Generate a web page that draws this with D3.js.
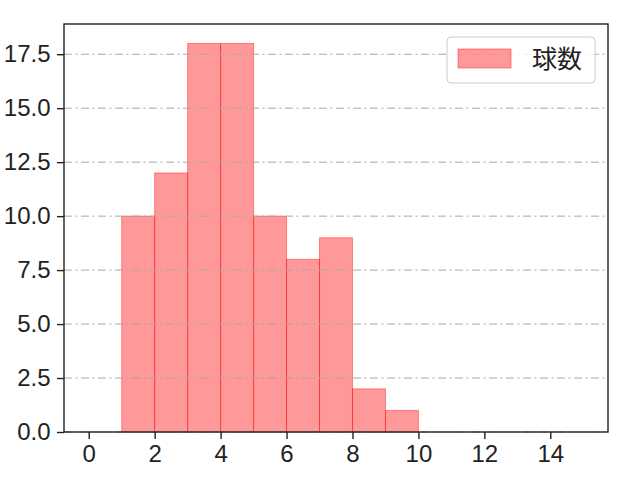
<!DOCTYPE html>
<html>
<head>
<meta charset="utf-8">
<script src="https://cdn.jsdelivr.net/npm/d3@7"></script>
<style>
  body { margin: 0; background: #fff; }
  text { font-family: "Liberation Sans", "Noto Sans CJK JP", sans-serif; }
</style>
</head>
<body>
<div id="chart"></div>
<script>
// histogram bins (left edge, width 1) and counts
const binStarts = [0, 1, 2, 3, 4, 5, 6, 7, 8, 9, 10, 11, 12, 13, 14];
const counts = [0, 10, 12, 18, 18, 10, 8, 9, 2, 1, 0, 0, 0, 0, 0];
const xTicks = [0, 2, 4, 6, 8, 10, 12, 14];
const yTicks = [0, 2.5, 5, 7.5, 10, 12.5, 15, 17.5];
const seriesName = "球数";

const W = 640, H = 480;
const margin = { top: 24, right: 32, bottom: 48, left: 64 };

const svg = d3.select("#chart").append("svg")
  .attr("width", W)
  .attr("height", H);

// matplotlib-like 5% margins
const x0 = d3.min(binStarts), x1 = d3.max(binStarts) + 1;
const pad = (x1 - x0) * 0.05;
const x = d3.scaleLinear()
  .domain([x0 - pad, x1 + pad])
  .range([margin.left, W - margin.right]);

const y = d3.scaleLinear()
  .domain([0, d3.max(counts) * 1.05])
  .range([H - margin.bottom, margin.top]);

const bins = binStarts.map((s, i) => ({ x0: s, x1: s + 1, n: counts[i] }));

// bars
svg.append("g")
  .selectAll("rect")
  .data(bins.filter(d => d.n > 0))
  .join("rect")
  .attr("x", d => x(d.x0))
  .attr("width", d => x(d.x1) - x(d.x0))
  .attr("y", d => y(d.n))
  .attr("height", d => y(0) - y(d.n))
  .attr("fill", "#ff0000")
  .attr("fill-opacity", 0.4)
  .attr("stroke", "#ff0000")
  .attr("stroke-opacity", 0.4)
  .attr("stroke-width", 1);

// grid (on top of the bars)
svg.append("g")
  .selectAll("line")
  .data(yTicks)
  .join("line")
  .attr("x1", margin.left)
  .attr("x2", W - margin.right)
  .attr("y1", d => y(d))
  .attr("y2", d => y(d))
  .attr("stroke", "#a8a8a8")
  .attr("stroke-width", 1)
  .attr("stroke-dasharray", "8,3.5,2,3.5");

// axes
const xAxis = svg.append("g")
  .attr("transform", `translate(0,${H - margin.bottom})`)
  .call(d3.axisBottom(x).tickValues(xTicks).tickSize(7).tickPadding(6).tickFormat(d3.format("d")));

const yAxis = svg.append("g")
  .attr("transform", `translate(${margin.left},0)`)
  .call(d3.axisLeft(y).tickValues(yTicks).tickSize(7).tickPadding(6.5).tickFormat(d3.format(".1f")));

[xAxis, yAxis].forEach(g => {
  g.select(".domain").remove();
  g.attr("font-family", null).attr("font-size", null);
  g.selectAll(".tick line").attr("stroke", "#222").attr("stroke-width", 1.4);
  g.selectAll(".tick text").attr("fill", "#222").style("font-size", "24px");
});

// frame
svg.append("rect")
  .attr("x", margin.left)
  .attr("y", margin.top)
  .attr("width", W - margin.left - margin.right)
  .attr("height", H - margin.top - margin.bottom)
  .attr("fill", "none")
  .attr("stroke", "#222")
  .attr("stroke-width", 1.4);

// legend
const lg = svg.append("g").attr("transform", "translate(447,37)");
lg.append("rect")
  .attr("width", 148).attr("height", 46)
  .attr("rx", 4)
  .attr("fill", "#fff").attr("fill-opacity", 0.8)
  .attr("stroke", "#ccc");
lg.append("rect")
  .attr("x", 11).attr("y", 12).attr("width", 53).attr("height", 19)
  .attr("fill", "#ff0000").attr("fill-opacity", 0.4)
  .attr("stroke", "#ff0000").attr("stroke-opacity", 0.4);
lg.append("text")
  .attr("x", 85).attr("y", 22)
  .attr("dy", "0.35em")
  .attr("fill", "#222")
  .style("font-family", "'Noto Sans CJK JP', sans-serif")
  .style("font-size", "25px")
  .text(seriesName);
</script>
</body>
</html>
